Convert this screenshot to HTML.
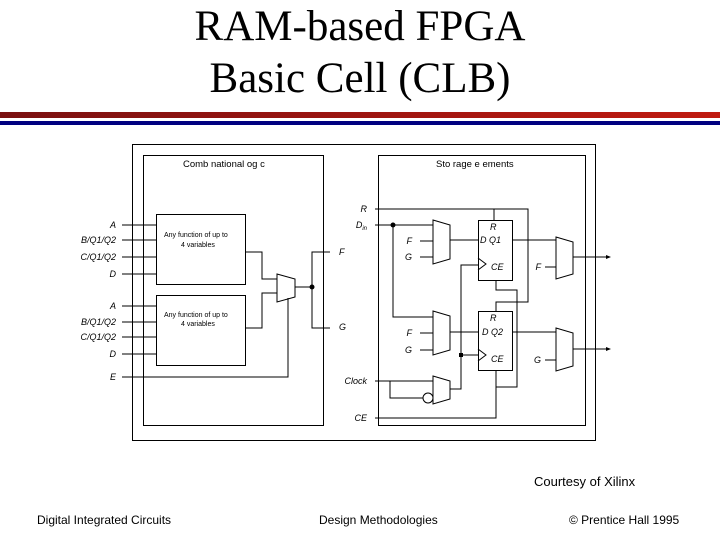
<!DOCTYPE html>
<html><head><style>
body{margin:0;width:720px;height:540px;background:#fff;overflow:hidden;position:relative;font-family:"Liberation Sans",sans-serif}
.t{position:absolute;left:0;width:720px;text-align:center;font-family:"Liberation Serif",serif;font-size:43px;line-height:48px}
.f{position:absolute;font-size:12px;top:513px}
</style></head><body>
<div class="t" style="top:3px;left:0">RAM-based FPGA</div>
<div class="t" style="top:55px">Basic Cell (CLB)</div>
<div style="position:absolute;left:0;top:112px;width:720px;height:6px;background:linear-gradient(90deg,#7a1010,#c01a10)"></div>
<div style="position:absolute;left:0;top:121px;width:720px;height:4px;background:#000080"></div>
<svg width="720" height="540" style="position:absolute;left:0;top:0" font-family="Liberation Sans, sans-serif" font-size="9" font-style="italic">
<g fill="none" stroke="#000" stroke-width="1">
<rect x="132.5" y="144.5" width="463" height="296"/>
<rect x="143.5" y="155.5" width="180" height="270"/>
<rect x="378.5" y="155.5" width="207" height="270"/>
<rect x="156.5" y="214.5" width="89" height="70"/>
<rect x="156.5" y="295.5" width="89" height="70"/>
<path d="M122 225H156M122 240H156M122 257H156M122 274H156M122 306H156M122 322H156M122 337H156M122 354H156M122 377H288V298"/>
<path d="M245 252H262V279H277M245 328H262V293H277"/>
<path d="M277 274L295 279V297L277 302Z"/>
<path d="M295 287H312M330 252H312V328H330"/>
<path d="M375 209H528V302H496V311M494 209V220"/>
<path d="M375 225H433M393 225V317H433"/>
<path d="M433 220L450 225V259L433 264Z"/>
<path d="M433 311L450 316V350L433 355Z"/>
<path d="M420 241H433M420 257H433M420 333H433M420 350H433"/>
<path d="M450 240H478M450 332H478"/>
<rect x="478.5" y="220.5" width="34" height="60"/>
<rect x="478.5" y="311.5" width="34" height="59"/>
<path d="M478 258L486 264L478 270M478 349L486 355L478 361"/>
<path d="M512 240H556M512 332H556"/>
<path d="M556 237L573 242V274L556 279Z"/>
<path d="M556 328L573 333V366L556 371Z"/>
<path d="M573 257H606M573 349H606M545 267H556M545 360H556"/>
<path d="M496 280V290H517V387H496M496 370V418H375"/>
<path d="M375 381H433M390 381V398H423"/>
<circle cx="428" cy="398" r="5"/>
<path d="M433 376L450 381V399L433 404Z"/>
<path d="M450 389H461V265H478M461 355H478"/>
</g>
<g fill="#000"><circle cx="312" cy="287" r="2.5"/><circle cx="393" cy="225" r="2.5"/><rect x="459" y="353" width="4" height="4"/>
<path d="M606 255L611 257L606 259Z"/><path d="M606 347L611 349L606 351Z"/></g>
<g font-style="normal" font-size="9.5"><text x="183" y="167">Comb national  og c</text><text x="436" y="167">Sto rage e ements</text>
<text x="164" y="237" font-size="7">Any function of up to</text><text x="181" y="247" font-size="7">4 variables</text>
<text x="164" y="317" font-size="7">Any function of up to</text><text x="181" y="326" font-size="7">4 variables</text></g>
<g text-anchor="end"><text x="116" y="228">A</text><text x="116" y="243">B/Q1/Q2</text><text x="116" y="260">C/Q1/Q2</text><text x="116" y="277">D</text>
<text x="116" y="309">A</text><text x="116" y="325">B/Q1/Q2</text><text x="116" y="340">C/Q1/Q2</text><text x="116" y="357">D</text><text x="116" y="380">E</text>
<text x="367" y="212">R</text><text x="367" y="228">D<tspan font-size="6" dy="2">in</tspan></text>
<text x="367" y="384">Clock</text><text x="367" y="421">CE</text>
<text x="412" y="244">F</text><text x="412" y="260">G</text><text x="412" y="336">F</text><text x="412" y="353">G</text>
<text x="541" y="270">F</text><text x="541" y="363">G</text></g>
<text x="339" y="255">F</text><text x="339" y="330">G</text>
<text x="490" y="230">R</text><text x="480" y="243">D  Q1</text><text x="491" y="270">CE</text>
<text x="490" y="321">R</text><text x="482" y="335">D  Q2</text><text x="491" y="362">CE</text>
</svg>
<div style="position:absolute;left:534px;top:474px;font-size:13px">Courtesy of Xilinx</div>
<div class="f" style="left:37px">Digital Integrated Circuits</div>
<div class="f" style="left:319px">Design Methodologies</div>
<div class="f" style="left:569px">© Prentice Hall 1995</div>
</body></html>
